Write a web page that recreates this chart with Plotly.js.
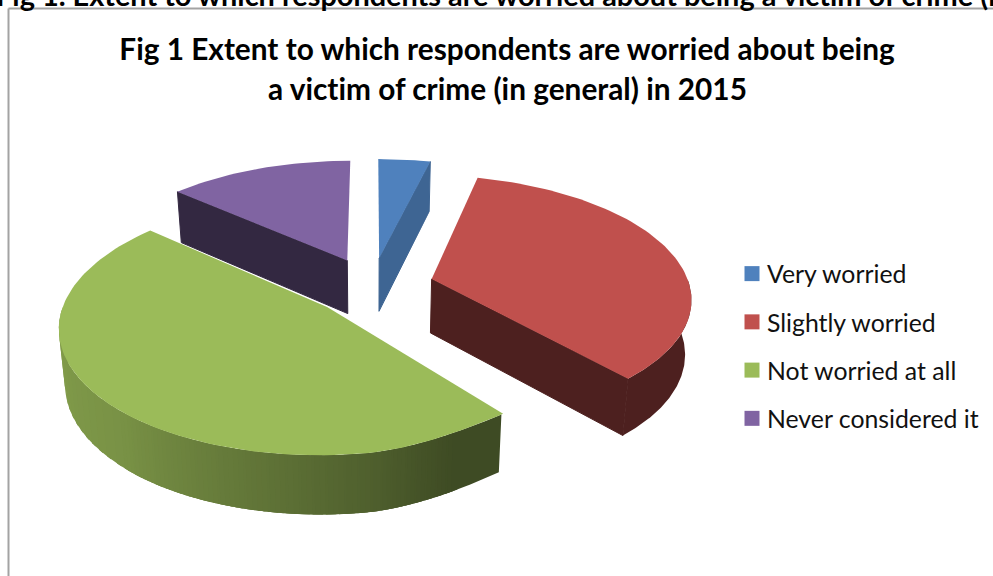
<!DOCTYPE html>
<html>
<head>
<meta charset="utf-8">
<script src="https://cdn.plot.ly/plotly-3.0.1.min.js"></script>
<style>
html,body{margin:0;padding:0;background:#fff;overflow:hidden}
#chart{width:993px;height:576px}
svg text{font-variant-ligatures:none !important;font-feature-settings:"liga" 0,"clig" 0,"dlig" 0 !important}
</style>
</head>
<body>
<div id="chart"></div>
<script>
// Survey responses, percent of respondents
const categories = ['Very worried', 'Slightly worried', 'Not worried at all', 'Never considered it'];
const shares = [3.8, 34.7, 48, 13.5];

const topColours = ['#4f81bd', '#c0504d', '#9bbb59', '#8064a2'];
const sideShade = [0.78, 0.40, 0.40, 0.40];
const drawOrder = [3, 0, 1, 2];

const figureCaption = 'Fig 1. Extent to which respondents are worried about being a victim of crime (i';
const titleLines = ['Fig 1 Extent to which respondents are worried about being',
                    'a victim of crime (in general) in 2015'];

// Perspective pie: unit disc on a tilted plane, each slice pulled out along its mid-angle
const view = {cx: 372, cy: 286, rx: 258, persp: 0.1427, horizon: 845, depth: 54, pull: 0.24, base: 0.98, lens: 0.6};

function project(X, Y, lowered) {
  const w = 1 / (1 + view.persp * Y);
  // the nearest right-hand part of the disc is pulled in slightly
  const squeeze = X > 0 ? 1 - view.lens * Math.max(0, -Y - 0.75) : 1;
  const dx = view.rx * X * squeeze * w;
  return {
    x: view.cx + dx * (lowered ? view.base : 1),
    y: view.cy + view.horizon * (w - 1) + (lowered ? view.depth * Math.sqrt(w) : 0)
  };
}
function shade(hex, f) {
  const n = parseInt(hex.slice(1), 16);
  const c = [n >> 16, (n >> 8) & 255, n & 255].map(v => Math.round(v * f));
  return 'rgb(' + c.join(',') + ')';
}
function polygon(points, colour, edge) {
  return {
    type: 'scatter', mode: 'lines', fill: 'toself', fillcolor: colour,
    x: points.map(p => p.x), y: points.map(p => p.y),
    line: edge ? {color: colour, width: edge} : {width: 0},
    showlegend: false, hoverinfo: 'skip'
  };
}
// Curved wall darkens from the left of the pie towards the front right
const rimStops = [[270, 0.85], [223, 0.78], [189, 0.61], [150, 0.40]];
function rimShade(deg) {
  if (deg >= rimStops[0][0]) return rimStops[0][1];
  for (let s = 1; s < rimStops.length; s++) {
    if (deg >= rimStops[s][0]) {
      const [d0, v0] = rimStops[s - 1], [d1, v1] = rimStops[s];
      return v1 + (v0 - v1) * (deg - d1) / (d0 - d1);
    }
  }
  return rimStops[rimStops.length - 1][1];
}

const rad = d => d * Math.PI / 180;
const total = shares.reduce((a, b) => a + b, 0);
const angles = [];
let running = 0;
shares.forEach(v => { angles.push([running, running + v / total * 360]); running += v / total * 360; });

const traces = [];
drawOrder.forEach(i => {
  const [a0, a1] = angles[i];
  const mid = rad((a0 + a1) / 2);
  const ox = view.pull * Math.sin(mid), oy = view.pull * Math.cos(mid);
  const rim = (deg, low) => project(ox + Math.sin(rad(deg)), oy + Math.cos(rad(deg)), low);
  const apex = low => project(ox, oy, low);
  const colour = topColours[i];

  // flat side walls that face the viewer
  const side = shade(colour, sideShade[i]);
  if (Math.sin(rad(a0)) < -1e-6) traces.push(polygon([apex(false), rim(a0, false), rim(a0, true), apex(true), apex(false)], side, 1));
  if (Math.sin(rad(a1)) > 1e-6) traces.push(polygon([apex(false), rim(a1, false), rim(a1, true), apex(true), apex(false)], side, 1));

  // curved outer wall: bands of equal shade, each overlapping the next to hide joins
  const from = Math.max(a0, 90), to = Math.min(a1, 270);
  if (to > from) {
    const levels = 220;
    const band = d => Math.round(rimShade(d) * levels);
    let start = to;
    const step = 0.5;
    while (start > from + 1e-6) {
      const level = band(start - step / 2);
      let end = start;
      while (end - step >= from - 1e-6 && band(end - step / 2) === level) end -= step;
      if (end === start) end = Math.max(from, start - step);
      const lowEnd = Math.max(from, end - 1.5);
      const upper = [], lower = [];
      for (let d = start; d >= lowEnd - 1e-6; d -= step) {
        upper.push(rim(d, false));
        lower.unshift(rim(d, true));
      }
      traces.push(polygon(upper.concat(lower, [upper[0]]), shade(colour, level / levels)));
      start = end;
    }
  }

  // top face
  const face = [apex(false)];
  const m = Math.ceil((a1 - a0) / 1.5);
  for (let s = 0; s <= m; s++) face.push(rim(a0 + (a1 - a0) * s / m, false));
  face.push(apex(false));
  traces.push(polygon(face, colour));
});

// Legend entries
categories.forEach((name, i) => traces.push({
  type: 'scatter', mode: 'markers', name: name, legendgroup: name,
  x: [null], y: [null],
  marker: {symbol: 'square', size: 15, color: topColours[i]},
  hoverinfo: 'skip'
}));

const layout = {
  width: 993, height: 576,
  margin: {l: 0, r: 0, t: 0, b: 0},
  paper_bgcolor: '#fff', plot_bgcolor: '#fff',
  xaxis: {range: [0, 993], visible: false, fixedrange: true},
  yaxis: {range: [576, 0], visible: false, fixedrange: true},
  title: {
    text: titleLines[0],
    x: 507 / 993, xanchor: 'center', xref: 'paper',
    y: 1 - 50 / 576, yanchor: 'middle', yref: 'container',
    font: {family: 'Lato', size: 29.8, color: '#000', weight: 700}
  },
  annotations: [
    {text: '<b>' + titleLines[1] + '</b>', xref: 'x', yref: 'y', x: 507, y: 88, xanchor: 'center', yanchor: 'middle',
     showarrow: false, font: {family: 'Lato', size: 29.8, color: '#000'}},
    {text: '<b>' + figureCaption + '</b>', xref: 'paper', yref: 'paper', x: -6 / 993, y: 1 + 5 / 576, xanchor: 'left', yanchor: 'middle',
     showarrow: false, font: {family: 'Lato', size: 28.9, color: '#000'}}
  ],
  shapes: [
    {type: 'line', xref: 'x', yref: 'y', x0: 8.5, y0: 8.5, x1: 993, y1: 8.5, line: {color: '#a3a3a3', width: 2}},
    {type: 'line', xref: 'x', yref: 'y', x0: 8.5, y0: 8.5, x1: 8.5, y1: 576, line: {color: '#a3a3a3', width: 2}}
  ],
  legend: {
    x: 732 / 993, y: 1 - 251 / 576, xanchor: 'left', yanchor: 'top',
    traceorder: 'grouped', tracegroupgap: 13,
    font: {family: 'Lato', size: 24.8, color: '#111'},
    bgcolor: 'rgba(0,0,0,0)', itemclick: false, itemdoubleclick: false
  },
  showlegend: true
};

Plotly.newPlot('chart', traces, layout, {displayModeBar: false, staticPlot: true}).then(gd => {
  // tighten the gap between swatch and label
  gd.querySelectorAll('.legendtext').forEach(t => t.setAttribute('x', 35));
});
</script>
</body>
</html>
